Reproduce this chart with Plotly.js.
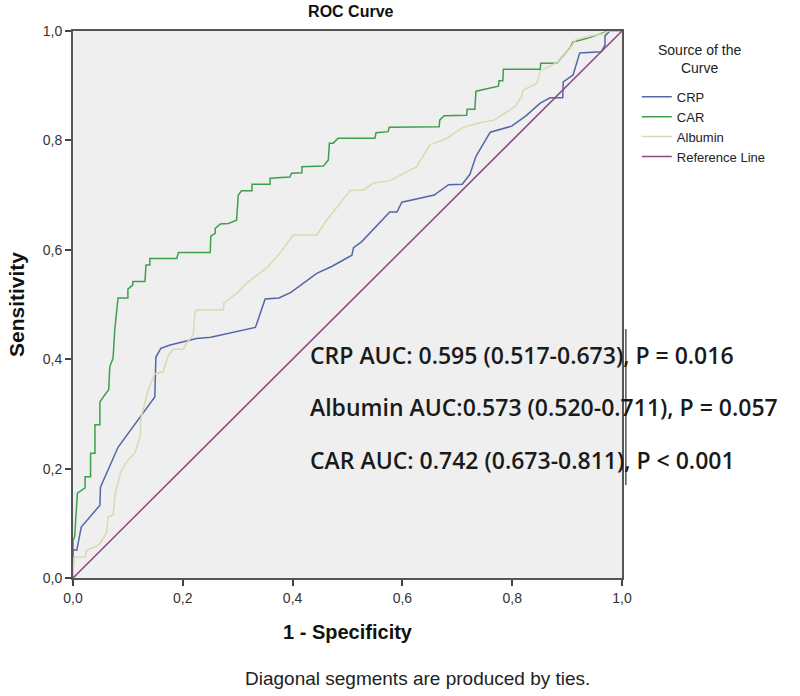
<!DOCTYPE html>
<html>
<head>
<meta charset="utf-8">
<script src="https://cdn.plot.ly/plotly-3.0.1.min.js"></script>
<style>html,body{margin:0;padding:0;background:#fff;}#chart{width:800px;height:696px;}</style>
</head>
<body>
<div id="chart"></div>
<script>
// CRP (blue)
const crpX = [0,0,0.007,0.015,0.049,0.050,0.082,0.149,0.151,0.160,0.177,0.225,0.251,0.332,0.334,0.350,0.375,0.397,0.444,0.472,0.508,0.511,0.526,0.577,0.590,0.599,0.658,0.684,0.709,0.723,0.734,0.760,0.799,0.825,0.851,0.869,0.892,0.893,0.911,0.923,0.962,0.969,0.969,0.978,1];
const crpY = [0,0.051,0.051,0.093,0.133,0.166,0.239,0.331,0.404,0.420,0.426,0.438,0.440,0.458,0.463,0.510,0.512,0.522,0.557,0.570,0.590,0.604,0.615,0.669,0.669,0.687,0.700,0.719,0.720,0.738,0.771,0.815,0.826,0.845,0.868,0.878,0.878,0.907,0.920,0.960,0.962,0.974,0.991,1,1];
// CAR (green)
const carX = [0,0,0.003,0.008,0.022,0.022,0.032,0.032,0.040,0.040,0.049,0.049,0.058,0.065,0.067,0.073,0.076,0.082,0.100,0.100,0.109,0.109,0.131,0.133,0.140,0.140,0.189,0.192,0.250,0.251,0.259,0.259,0.268,0.283,0.298,0.301,0.307,0.326,0.326,0.359,0.359,0.395,0.398,0.417,0.417,0.456,0.465,0.467,0.474,0.483,0.550,0.552,0.574,0.576,0.667,0.668,0.676,0.717,0.718,0.732,0.734,0.767,0.775,0.776,0.783,0.784,0.851,0.852,0.881,0.905,0.911,0.938,0.960,0.975,1];
const carY = [0,0.068,0.076,0.155,0.165,0.185,0.185,0.228,0.228,0.280,0.280,0.322,0.335,0.344,0.386,0.402,0.453,0.512,0.512,0.528,0.536,0.542,0.542,0.572,0.572,0.584,0.584,0.595,0.595,0.625,0.630,0.639,0.647,0.648,0.654,0.700,0.708,0.708,0.720,0.720,0.731,0.733,0.740,0.741,0.752,0.753,0.764,0.795,0.795,0.804,0.804,0.814,0.816,0.824,0.825,0.837,0.845,0.846,0.857,0.857,0.890,0.898,0.899,0.909,0.909,0.930,0.930,0.941,0.941,0.969,0.980,0.987,0.994,1,1];
// Albumin (beige)
const albX = [0,0.002,0.022,0.025,0.047,0.061,0.064,0.073,0.077,0.087,0.100,0.113,0.122,0.124,0.137,0.149,0.164,0.174,0.183,0.201,0.207,0.219,0.222,0.225,0.274,0.275,0.299,0.316,0.324,0.355,0.377,0.401,0.444,0.462,0.505,0.529,0.547,0.577,0.626,0.650,0.681,0.709,0.735,0.767,0.805,0.817,0.820,0.845,0.851,0.881,0.905,0.916,0.938,0.965,0.975,1];
const albY = [0,0.038,0.038,0.051,0.060,0.082,0.112,0.115,0.155,0.194,0.216,0.229,0.258,0.293,0.344,0.373,0.377,0.408,0.418,0.418,0.430,0.444,0.484,0.490,0.490,0.503,0.521,0.539,0.545,0.569,0.594,0.627,0.627,0.654,0.709,0.709,0.722,0.726,0.752,0.792,0.804,0.823,0.831,0.837,0.862,0.880,0.892,0.904,0.927,0.942,0.968,0.984,0.990,0.995,1,1];
// Reference line
const refX = [0,1];
const refY = [0,1];

const seriesNames = ["CRP","CAR","Albumin","Reference Line"];
const tickVals = [0,0.2,0.4,0.6,0.8,1.0];
const tickText = ["0,0","0,2","0,4","0,6","0,8","1,0"];
const aucLines = [
  "CRP AUC: 0.595 (0.517-0.673), P = 0.016",
  "Albumin AUC:0.573 (0.520-0.711), P = 0.057",
  "CAR AUC: 0.742 (0.673-0.811), P < 0.001"
];

const FONT = 'Liberation Sans, Arial, sans-serif';
const mk = (x,y,name,color) => ({x:x,y:y,name:name,type:'scatter',mode:'lines',line:{color:color,width:1.5},hoverinfo:'skip'});
const traces = [
  mk(crpX,crpY,seriesNames[0],'#5566a8'),
  mk(carX,carY,seriesNames[1],'#3f9f4c'),
  mk(albX,albY,seriesNames[2],'#d9dab0'),
  mk(refX,refY,seriesNames[3],'#8e4585')
];

const aucY = [0.408,0.313,0.216];
const annotations = aucLines.map((t,i)=>({
  text:t, xref:'paper', yref:'paper', x:0.428, y:aucY[i], xanchor:'left', yanchor:'middle',
  showarrow:false, font:{family:'Open Sans, sans-serif', size:23, color:'#1a1a1a', weight:600}
}));
annotations.push({text:'Source of the<br>Curve', xref:'paper', yref:'paper', x:1.142, y:0.949, xanchor:'center', yanchor:'middle', showarrow:false, font:{family:FONT, size:14, color:'#222'}});
annotations.push({text:'Diagonal segments are produced by ties.', xref:'paper', yref:'paper', x:0.627, y:-0.183, xanchor:'center', yanchor:'middle', showarrow:false, font:{family:FONT, size:19, color:'#222'}});

const axisCommon = {
  range:[0,1], tickvals:tickVals, ticktext:tickText, ticks:'outside', ticklen:6, tickwidth:2, tickcolor:'#444',
  showline:true, linecolor:'#555', linewidth:2, mirror:true, showgrid:false, zeroline:false,
  tickfont:{family:FONT, size:14, color:'#333'}, fixedrange:true
};

const layout = {
  width:800, height:696,
  margin:{l:73, r:178, t:31, b:118},
  paper_bgcolor:'#ffffff', plot_bgcolor:'#efefef',
  title:{text:'<b>ROC Curve</b>', x:0.506, xref:'paper', y:0.983, yanchor:'middle', font:{family:FONT, size:16, color:'#111'}},
  xaxis:Object.assign({}, axisCommon, {title:{text:'<b>1 - Specificity</b>', standoff:20, font:{family:FONT, size:20, color:'#111'}}}),
  yaxis:Object.assign({}, axisCommon, {title:{text:'<b>Sensitivity</b>', standoff:12, font:{family:FONT, size:21, color:'#111'}}}),
  showlegend:true,
  legend:{x:1.027, y:0.907, xanchor:'left', yanchor:'top', bgcolor:'rgba(0,0,0,0)', font:{family:FONT, size:13, color:'#222'}, tracegroupgap:0, itemwidth:30},
  annotations:annotations,
  shapes:[{type:'line', xref:'paper', yref:'paper', x0:1.007, x1:1.007, y0:0.170, y1:0.455, line:{color:'#555', width:1.5}, layer:'above'}]
};

Plotly.newPlot('chart', traces, layout, {displayModeBar:false, staticPlot:true});
</script>
</body>
</html>
